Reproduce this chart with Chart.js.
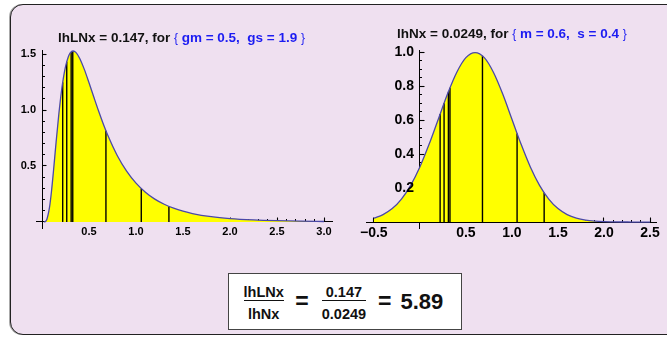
<!DOCTYPE html>
<html>
<head>
<meta charset="utf-8">
<script src="https://cdn.jsdelivr.net/npm/chart.js@4.4.1/dist/chart.umd.min.js"></script>
<style>
body { margin: 0; width: 667px; height: 337px; background: #fff; position: relative; overflow: hidden; font-family: "Liberation Sans", Arial, sans-serif; }
#panel { position: absolute; left: 10px; top: 4px; width: 690px; height: 331px; box-sizing: border-box; background: #efe0f0; border: 1.5px solid #222; border-radius: 13px; box-shadow: -1px 0 0 #aaa; }
canvas { position: absolute; top: 0; }
#cl { left: 0; }
#cr { left: 340px; }
.title { position: absolute; font-weight: bold; font-size: 13.5px; line-height: 16px; white-space: nowrap; color: #111; }
.title .p { color: #1c1cf2; }
.title .b { font-weight: normal; font-size: 12px; }
#box { position: absolute; left: 228px; top: 273px; width: 234px; height: 57px; box-sizing: border-box; background: #fff; border: 1px solid #444; display: flex; align-items: center; padding-left: 13px; color: #111; }
.fr { display: flex; flex-direction: column; align-items: stretch; text-align: center; font-weight: bold; font-size: 14.5px; line-height: 14px; margin-top: 3px; }
.fr .bar { height: 1.5px; background: #111; margin: 1px 0 6px; }
.eq { font-weight: bold; font-size: 23px; }
.big { font-weight: bold; font-size: 22px; }
</style>
</head>
<body>
<div id="panel"></div>
<canvas id="cl" width="340" height="250"></canvas>
<canvas id="cr" width="327" height="250"></canvas>
<div class="title" style="left:58px;top:30px">lhLNx = 0.147, for <span class="p"><span class="b">{</span> gm = 0.5,&nbsp; gs = 1.9 <span class="b">}</span></span></div>
<div class="title" style="left:397px;top:26px">lhNx = 0.0249, for <span class="p"><span class="b">{</span> m = 0.6,&nbsp; s = 0.4 <span class="b">}</span></span></div>
<div id="box">
  <div class="fr" style="padding:0 1.5px"><span>lhLNx</span><div class="bar"></div><span>lhNx</span></div>
  <span class="eq" style="margin-left:10px">=</span>
  <div class="fr" style="padding:0 2px;margin-left:11px"><span>0.147</span><div class="bar"></div><span>0.0249</span></div>
  <span class="eq" style="margin-left:10px">=</span>
  <span class="big" style="margin-left:9px">5.89</span>
</div>
<script>
// lognormal curve, gm = 0.5, gs = 1.9
const lnX = [0.02, 0.03, 0.05, 0.08, 0.1, 0.12, 0.15, 0.18, 0.2, 0.22, 0.25, 0.28, 0.3, 0.33, 0.36, 0.4, 0.45, 0.5, 0.55, 0.6, 0.65, 0.7, 0.8, 0.9, 1.0, 1.1, 1.2, 1.3, 1.4, 1.5, 1.6, 1.8, 2.0, 2.25, 2.5, 2.75, 3.0];
const lnY = [0, 0.001, 0.020, 0.132, 0.268, 0.437, 0.714, 0.973, 1.122, 1.247, 1.388, 1.476, 1.510, 1.527, 1.515, 1.463, 1.363, 1.243, 1.118, 0.995, 0.880, 0.774, 0.594, 0.454, 0.347, 0.266, 0.204, 0.158, 0.123, 0.096, 0.075, 0.047, 0.030, 0.018, 0.011, 0.0066, 0.0042];

// normal curve, m = 0.6, s = 0.4
const nX = [-0.5, -0.4, -0.3, -0.2, -0.1, 0, 0.1, 0.2, 0.3, 0.4, 0.5, 0.6, 0.7, 0.8, 0.9, 1.0, 1.1, 1.2, 1.3, 1.4, 1.5, 1.6, 1.7, 1.8, 1.9, 2.0, 2.1, 2.2, 2.3, 2.4, 2.5];
const nY = [0.023, 0.044, 0.079, 0.135, 0.216, 0.324, 0.457, 0.605, 0.753, 0.880, 0.967, 0.997, 0.967, 0.880, 0.753, 0.605, 0.457, 0.324, 0.216, 0.135, 0.079, 0.044, 0.023, 0.011, 0.005, 0.002, 0.001, 0.0003, 0.0001, 0, 0];

// sample points and the density at each
const sampleX = [0.22, 0.263, 0.31, 0.327, 0.68, 1.056, 1.35];
const lnAtSample = [1.247, 1.432, 1.519, 1.527, 0.815, 0.299, 0.139];
const nAtSample = [0.635, 0.699, 0.767, 0.790, 0.978, 0.521, 0.172];

// ticks (minor marks and labelled ones)
const leftXTicks = [0.1, 0.2, 0.3, 0.4, 0.5, 0.6, 0.7, 0.8, 0.9, 1.0, 1.1, 1.2, 1.3, 1.4, 1.5, 1.6, 1.7, 1.8, 1.9, 2.0, 2.1, 2.2, 2.3, 2.4, 2.5, 2.6, 2.7, 2.8, 2.9, 3.0];
const leftXLabels = [0.5, 1.0, 1.5, 2.0, 2.5, 3.0];
const leftYTicks = [0.1, 0.2, 0.3, 0.4, 0.5, 0.6, 0.7, 0.8, 0.9, 1.0, 1.1, 1.2, 1.3, 1.4, 1.5];
const leftYLabels = [0.5, 1.0, 1.5];
const rightXTicks = [-0.5, -0.4, -0.3, -0.2, -0.1, 0.1, 0.2, 0.3, 0.4, 0.5, 0.6, 0.7, 0.8, 0.9, 1.0, 1.1, 1.2, 1.3, 1.4, 1.5, 1.6, 1.7, 1.8, 1.9, 2.0, 2.1, 2.2, 2.3, 2.4, 2.5];
const rightXLabels = [-0.5, 0.5, 1.0, 1.5, 2.0, 2.5];
const rightYTicks = [0.05, 0.1, 0.15, 0.2, 0.25, 0.3, 0.35, 0.4, 0.45, 0.5, 0.55, 0.6, 0.65, 0.7, 0.75, 0.8, 0.85, 0.9, 0.95, 1.0];
const rightYLabels = [0.2, 0.4, 0.6, 0.8, 1.0];

function fmt(v) {
    const s = Math.abs(v).toFixed(1);
    return v < 0 ? '\u2212' + s : s;
}

function plot(id, o) {
    const datasets = [{
        data: o.cx.map((x, i) => ({ x: x, y: o.cy[i] })),
        borderColor: '#4a48a8',
        borderWidth: 1.3,
        backgroundColor: '#ffff00',
        fill: 'origin',
        cubicInterpolationMode: 'monotone',
        pointRadius: 0
    }];
    sampleX.forEach((x, i) => {
        datasets.push({
            data: [{ x: x, y: 0 }, { x: x, y: o.h[i] }],
            borderColor: '#000',
            borderWidth: 1.4,
            pointRadius: 0,
            fill: false
        });
    });

    const font = { family: 'Liberation Sans', weight: 'bold', size: o.fs };
    const minor = { drawOnChartArea: false, tickLength: -3, tickColor: '#000', tickWidth: 1 };
    const major = { drawOnChartArea: false, tickLength: -4.5, tickColor: '#000', tickWidth: 1.1 };
    const border = { display: true, color: '#000', width: 1 };
    const setTicks = list => s => { s.ticks = list.map(v => ({ value: v })); };
    const noHeight = s => { s.height = 0; };
    const noWidth = s => { s.width = 0; };

    new Chart(document.getElementById(id), {
        type: 'line',
        data: { datasets: datasets },
        options: {
            responsive: false,
            animation: false,
            devicePixelRatio: 1,
            layout: { padding: o.pad },
            plugins: {
                legend: { display: false },
                tooltip: { enabled: false },
                filler: { drawTime: 'beforeDatasetsDraw' }
            },
            scales: {
                x: {
                    type: 'linear', min: o.xr[0], max: o.xr[1],
                    position: { y: 0 },
                    afterBuildTicks: setTicks(o.xt),
                    afterFit: noHeight,
                    border: border,
                    grid: minor,
                    ticks: { display: false }
                },
                y: {
                    type: 'linear', min: o.yr[0], max: o.yr[1],
                    position: { x: 0 },
                    afterBuildTicks: setTicks(o.yt),
                    afterFit: noWidth,
                    border: border,
                    grid: minor,
                    ticks: { display: false }
                },
                xm: {
                    type: 'linear', axis: 'x', min: o.xr[0], max: o.xr[1],
                    position: { y: 0 },
                    afterBuildTicks: setTicks(o.xl),
                    afterFit: noHeight,
                    border: { display: false },
                    grid: major,
                    ticks: {
                        autoSkip: false,
                        maxRotation: 0,
                        padding: o.xpad,
                        color: '#000',
                        font: font,
                        z: 1,
                        callback: v => fmt(v)
                    }
                },
                ym: {
                    type: 'linear', axis: 'y', min: o.yr[0], max: o.yr[1],
                    position: { x: 0 },
                    afterBuildTicks: setTicks(o.yl),
                    afterFit: noWidth,
                    border: { display: false },
                    grid: major,
                    ticks: { display: false }
                },
                yl: {
                    type: 'linear', axis: 'y', min: o.yr[0], max: o.yr[1],
                    position: { x: -0.064 },
                    afterBuildTicks: setTicks(o.yl),
                    afterFit: noWidth,
                    border: { display: false },
                    grid: { display: false },
                    ticks: { color: '#000', font: font, z: 1, callback: v => fmt(v) }
                }
            }
        }
    });
}

plot('cl', {
    cx: lnX, cy: lnY, h: lnAtSample,
    xt: leftXTicks, xl: leftXLabels, yt: leftYTicks, yl: leftYLabels,
    xr: [-0.064, 3.085], yr: [-0.054, 1.536],
    fs: 11, xpad: 7.5,
    pad: { left: 36, right: 8, top: 50, bottom: 22 }
});

plot('cr', {
    cx: nX, cy: nY, h: nAtSample,
    xt: rightXTicks, xl: rightXLabels, yt: rightYTicks, yl: rightYLabels,
    xr: [-0.585, 2.574], yr: [-0.035, 1.012],
    fs: 14, xpad: 7,
    pad: { left: 26, right: 4, top: 50, bottom: 22 }
});
</script>
</body>
</html>
